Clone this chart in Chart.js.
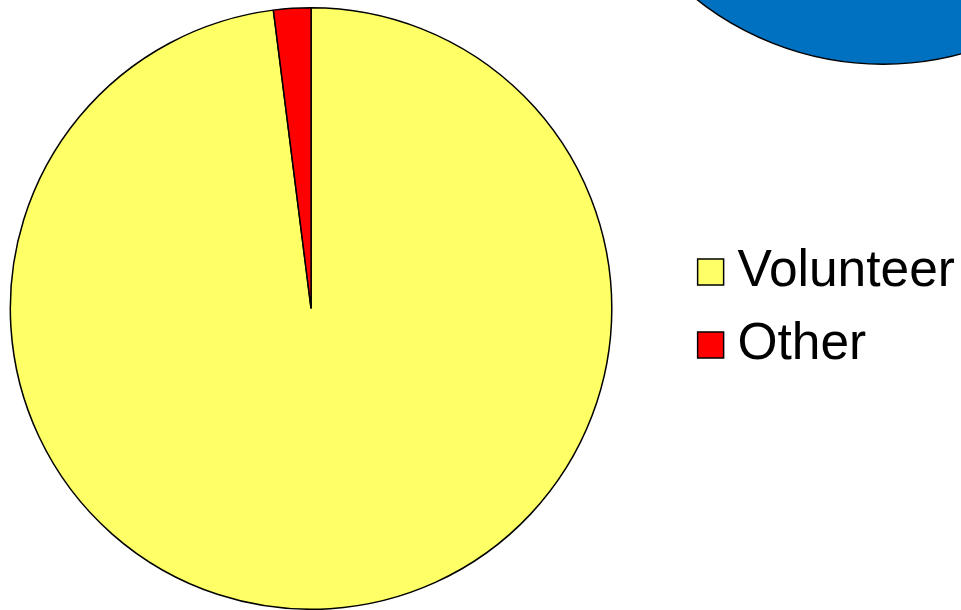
<!DOCTYPE html>
<html>
<head>
<meta charset="utf-8">
<script src="https://cdn.jsdelivr.net/npm/chart.js@4/dist/chart.umd.min.js"></script>
<style>
  html, body { margin: 0; padding: 0; background: #fff; }
  body { width: 961px; height: 610px; overflow: hidden; position: relative; }
  #sharePie { position: absolute; left: -66px; top: 0; }
  #nextPie { position: absolute; left: 582px; top: -537px; }
</style>
</head>
<body>
<canvas id="sharePie" width="1100" height="610"></canvas>
<canvas id="nextPie" width="602" height="602"></canvas>
<script>
// share of responses by type
const categories = ['Volunteer', 'Other'];
const shares = [98, 2];
const sliceColors = ['#FFFF66', '#FF0000'];

// neighbouring pie, only its lower edge shows
const nextCategories = ['Paid'];
const nextShares = [100];
const nextColors = ['#0070C0'];

new Chart(document.getElementById('sharePie'), {
    type: 'pie',
    data: {
        labels: categories,
        datasets: [{
            data: shares,
            backgroundColor: sliceColors,
            borderColor: '#000',
            borderWidth: 1.5
        }]
    },
    options: {
        responsive: false,
        animation: false,
        layout: { padding: { top: 7, left: 0, right: 69, bottom: 0 } },
        plugins: {
            tooltip: { enabled: false },
            legend: {
                position: 'right',
                labels: {
                    usePointStyle: true,
                    pointStyle: 'rect',
                    boxWidth: 2,
                    boxHeight: 26,
                    padding: 21.5,
                    color: '#000',
                    font: { family: '"Liberation Sans", Arial, sans-serif', size: 51.5 }
                }
            }
        }
    }
});

new Chart(document.getElementById('nextPie'), {
    type: 'pie',
    data: {
        labels: nextCategories,
        datasets: [{
            data: nextShares,
            backgroundColor: nextColors,
            borderColor: '#000',
            borderWidth: 1.5
        }]
    },
    options: {
        responsive: false,
        animation: false,
        plugins: { legend: { display: false }, tooltip: { enabled: false } }
    }
});
</script>
</body>
</html>
